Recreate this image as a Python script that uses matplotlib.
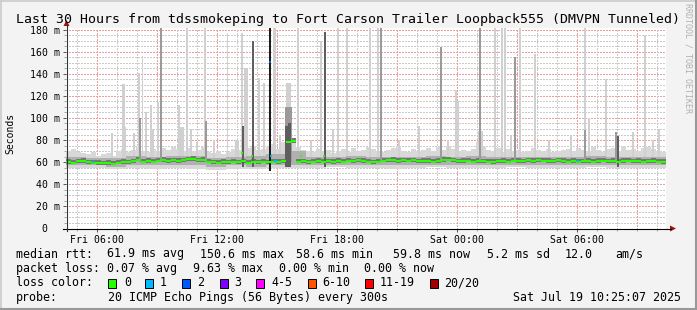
import numpy as np
import matplotlib
matplotlib.use("Agg")
import matplotlib.pyplot as plt
from matplotlib.lines import Line2D
from matplotlib.patches import Polygon, Rectangle

W, H = 697, 310
MONO = "DejaVu Sans Mono"

# ---- data ----
title = "Last 30 Hours from tdssmokeping to Fort Carson Trailer Loopback555 (DMVPN Tunneled)"
start_clock = "Fri 04:25"   # first sample, 15 minute steps

# median rtt (ms), one value per 15 min
median_ms = [
    60.2, 59.6, 60.8, 61.0,  60.0, 59.6, 59.2, 58.8,  59.4, 58.6, 59.6, 60.2,
    60.0, 60.8, 62.4, 60.6,  61.2, 60.4, 61.4, 62.0,  61.0, 61.6, 61.0, 61.8,
    62.6, 63.0, 61.6, 62.0,  60.6, 60.0, 59.6, 60.2,  59.8, 60.4, 60.0, 60.8,
    59.6, 60.4, 59.8, 60.6,  60.0, 60.4, 60.2, 60.8,  78.4, 79.2, 60.4, 60.8,
    60.0, 60.6, 61.2, 60.4,  60.8, 60.2, 61.0, 60.6,  61.4, 60.8, 61.6, 61.0,
    60.4, 60.0, 60.6, 61.4,  61.6, 62.0, 61.2, 61.8,  61.4, 61.6, 60.8, 61.2,
    61.0, 60.4, 61.2, 62.2,  62.4, 61.6, 60.8, 61.0,  61.4, 60.6, 61.2, 60.8,
    60.4, 60.2, 60.8, 61.0,  60.6, 61.4, 61.2, 60.8,  61.6, 61.0, 61.8, 61.4,
    61.2, 60.8, 61.6, 61.2,  60.6, 61.0, 60.4, 60.8,  61.2, 60.6, 61.0, 61.4,
    60.8, 61.2, 60.6, 61.0,  61.4, 60.8, 61.2, 60.4,  60.8, 61.0, 60.6, 60.2,
]

# top of the light smoke (ms), one value per 15 min
smoke_top_ms = [
    70, 72, 69, 68,  67, 69, 66, 67,  68, 66, 70, 72,  69, 71, 74, 70,
    69, 72, 70, 73,  71, 74, 72, 70,  73, 70, 71, 74,  69, 68, 70, 67,
    69, 72, 71, 74,  73, 75, 71, 72,  74, 76, 72, 78,  84, 82, 74, 71,
    70, 69, 72, 70,  71, 68, 70, 72,  69, 73, 70, 71,  74, 72, 70, 69,
    71, 73, 75, 70,  69, 72, 70, 71,  73, 70, 74, 71,  75, 72, 70, 71,
    70, 72, 78, 74,  71, 70, 73, 69,  72, 70, 71, 69,  70, 73, 71, 70,
    72, 69, 70, 71,  72, 70, 73, 71,  70, 74, 71, 69,  72, 73, 70, 75,
    71, 72, 70, 73,  74, 72, 70, 69,
]

# hourly values: bottom of light smoke, darker inner band
smoke_bottom_ms = [55, 55, 54, 55, 54, 55, 54, 53, 54, 54, 55, 55, 55, 56, 55,
                   55, 54, 55, 56, 55, 55, 55, 56, 55, 55, 55, 56, 55, 55, 55]
band_top_ms = [65, 64, 64, 66, 65, 66, 66, 64, 65, 66, 67, 70, 65, 65, 66,
               65, 65, 65, 66, 65, 66, 65, 65, 65, 65, 65, 66, 65, 65, 65]
band_bottom_ms = [57, 57, 56, 57, 57, 57, 57, 56, 57, 56, 57, 57, 57, 57, 57,
                  57, 57, 57, 57, 57, 57, 57, 57, 57, 57, 57, 57, 57, 57, 57]

# single-sample smoke spikes: (time, highest ping ms, shade, samples wide)
spikes = [
    ("Fri 06:41", 86, "l", 1), ("Fri 07:15", 131, "l", 2), ("Fri 07:18", 92, "l", 2),
    ("Fri 07:48", 86, "l", 1), ("Fri 08:03", 141, "l", 1), ("Fri 08:06", 100, "m", 1),
    ("Fri 08:13", 156, "l", 1), ("Fri 08:24", 105, "l", 1), ("Fri 08:39", 112, "l", 1),
    ("Fri 08:45", 90, "l", 1), ("Fri 09:00", 114, "l", 1), ("Fri 09:09", 200, "m", 1),
    ("Fri 10:03", 112, "l", 1), ("Fri 10:06", 92, "l", 3), ("Fri 10:15", 90, "l", 1),
    ("Fri 10:27", 200, "l", 1), ("Fri 10:39", 90, "l", 1), ("Fri 10:57", 78, "l", 1),
    ("Fri 11:21", 200, "l", 1), ("Fri 11:24", 97, "m", 1), ("Fri 11:48", 80, "l", 1),
    ("Fri 12:28", 177, "l", 1), ("Fri 12:54", 80, "l", 2), ("Fri 13:12", 177, "l", 1),
    ("Fri 13:15", 93, "d", 1), ("Fri 13:21", 145, "l", 2), ("Fri 13:45", 170, "d", 1),
    ("Fri 14:03", 136, "l", 1), ("Fri 14:18", 132, "l", 1), ("Fri 14:36", 200, "k", 1),
    ("Fri 14:48", 200, "l", 2), ("Fri 15:06", 84, "l", 1), ("Fri 15:27", 132, "l", 3),
    ("Fri 15:24", 110, "m", 4), ("Fri 15:24", 93, "d", 2), ("Fri 15:33", 95, "d", 2),
    ("Fri 16:00", 200, "l", 1), ("Fri 16:39", 80, "l", 1), ("Fri 17:09", 170, "l", 1),
    ("Fri 17:21", 178, "d", 1), ("Fri 17:45", 90, "l", 1), ("Fri 18:00", 200, "l", 1),
    ("Fri 18:27", 200, "l", 1), ("Fri 19:36", 200, "l", 1), ("Fri 20:00", 200, "l", 1),
    ("Fri 20:09", 200, "m", 1), ("Fri 21:03", 80, "l", 1), ("Fri 22:03", 93, "l", 1),
    ("Fri 23:09", 164, "m", 1), ("Fri 23:30", 80, "l", 1), ("Fri 23:54", 125, "l", 1),
    ("Sat 00:00", 115, "l", 1), ("Sat 01:03", 88, "l", 3), ("Sat 01:06", 200, "m", 1),
    ("Sat 01:51", 200, "l", 1), ("Sat 02:12", 200, "l", 1), ("Sat 02:21", 200, "l", 1),
    ("Sat 02:39", 84, "l", 1), ("Sat 02:51", 155, "m", 1), ("Sat 03:06", 200, "l", 1),
    ("Sat 03:51", 158, "l", 1), ("Sat 04:33", 80, "l", 1), ("Sat 05:39", 84, "l", 1),
    ("Sat 06:21", 200, "l", 1), ("Sat 06:21", 89, "m", 1), ("Sat 06:33", 100, "l", 1),
    ("Sat 07:24", 135, "l", 1), ("Sat 07:54", 87, "m", 1), ("Sat 08:00", 84, "d", 1),
    ("Sat 08:45", 87, "l", 1), ("Sat 09:21", 175, "l", 1), ("Sat 09:45", 80, "l", 1),
    ("Sat 10:03", 90, "l", 1),
]

# median samples drawn apart from the 15 min line: (time, ms, lost pings bin)
loss_marks = [
    ("Fri 05:45", 60.2, 1), ("Fri 13:12", 68.0, 0), ("Fri 13:42", 66.0, 0),
    ("Fri 14:36", 150.6, 2), ("Fri 14:39", 66.0, 1), ("Fri 14:51", 61.0, 1),
    ("Fri 14:54", 61.0, 1), ("Fri 16:09", 66.0, 0), ("Fri 17:18", 66.0, 0),
    ("Sat 06:00", 61.5, 1),
]

y_ticks = [0, 20, 40, 60, 80, 100, 120, 140, 160, 180]
y_tick_labels = ["0  ", "20 m", "40 m", "60 m", "80 m", "100 m", "120 m",
                 "140 m", "160 m", "180 m"]
x_tick_clocks = ["Fri 06:00", "Fri 12:00", "Fri 18:00", "Sat 00:00", "Sat 06:00"]

loss_bins = ["0", "1", "2", "3", "4-5", "6-10", "11-19", "20/20"]
loss_colors = ["#26ff00", "#00b8ff", "#0059ff", "#7e00ff", "#ff00ff",
               "#ff5500", "#ff0000", "#a10000"]

rtt_stats = ["61.9 ms avg", "150.6 ms max", "58.6 ms min", "59.8 ms now",
             "5.2 ms sd", "12.0", "am/s"]
loss_stats = ["0.07 % avg", "9.63 % max", "0.00 % min", "0.00 % now"]
probe_text = "20 ICMP Echo Pings (56 Bytes) every 300s"
stamp = "Sat Jul 19 10:25:07 2025"


def hrs(clock):
    day, hm = clock.split()
    h, m = hm.split(":")
    return (24 if day == "Sat" else 0) + int(h) + int(m) / 60 - 6


def fx(px):
    return px / W


def fy(py):
    return 1 - py / H


t0 = hrs(start_clock)
fig = plt.figure(figsize=(W / 100, H / 100), dpi=100, facecolor="#f3f3f3")
ax = fig.add_axes([fx(65.5), fy(228.5), 600 / W, 200.5 / H])
ax.set_xlim(t0, t0 + 30)
ax.set_ylim(0, 200.5 / (199 / 180))
ax.set_facecolor("white")
for s in ax.spines.values():
    s.set_visible(False)

# grid (under the smoke)
for v in np.arange(5, 181, 5):
    major = v % 20 == 0
    ax.axhline(v, color="#eb9f9f" if major else "#cbcbcb", lw=0.75,
               ls=(0, (1, 1)), antialiased=False, zorder=0.5)
for h in range(-1, 29):
    major = h % 3 == 0
    ax.axvline(h, color="#eb9f9f" if major else "#cbcbcb", lw=0.75,
               ls=(0, (1, 1)), antialiased=False, zorder=0.5)

# light smoke
qe = t0 + 0.25 * np.arange(len(smoke_top_ms) + 1)
he = t0 + np.arange(len(smoke_bottom_ms) + 1)
top_q = list(smoke_top_ms) + [smoke_top_ms[-1]]
bot_q = [smoke_bottom_ms[min(int((q - t0) // 1), 29)] for q in qe]
ax.fill_between(qe, bot_q, top_q, step="post", color="#d8d8d8", lw=0, zorder=1)

shade = {"l": ("#d0d0d0", 64, 2), "m": ("#9a9a9a", 60, 3),
         "d": ("#5e5e5e", 56, 4), "k": ("#1c1c1c", 52, 5)}
for when, top, sh, n in spikes:
    col, base, z = shade[sh]
    ax.bar(hrs(when), top - base, bottom=base, width=n / 12, align="edge",
           color=col, lw=0, zorder=z)

# darker band and core around the median
ax.fill_between(he, list(band_bottom_ms) + [band_bottom_ms[-1]],
                list(band_top_ms) + [band_top_ms[-1]], step="post",
                color="#b0b0b0", lw=0, zorder=2.5)
med = np.array(median_ms)
ax.fill_between(qe, list(med - 1.6) + [med[-1] - 1.6], list(med + 2.4) + [med[-1] + 2.4],
                step="post", color="#767676", lw=0, zorder=2.6)

# median line
ax.hlines(med, qe[:-1], qe[1:], colors=loss_colors[0], lw=1.5, zorder=8,
          capstyle="butt")
for when, v, lb in loss_marks:
    t = hrs(when)
    ax.hlines(v, t, t + 1 / 12, colors=loss_colors[lb], lw=1.5, zorder=9)

# ticks and labels
ax.set_yticks(y_ticks, y_tick_labels)
ax.set_yticks(np.arange(0, 181, 5), minor=True)
ax.set_xticks([hrs(c) for c in x_tick_clocks], x_tick_clocks)
ax.set_xticks(range(-1, 29), minor=True)
ax.tick_params(axis="both", which="major", length=2.5, width=0.7,
               color="#555555", labelsize=7.1, labelfontfamily=MONO)
ax.tick_params(axis="y", which="major", pad=1.6)
ax.tick_params(axis="x", which="major", pad=2.0)
ax.tick_params(axis="both", which="minor", length=1.5, width=0.6, color="#999999")

# axis lines with arrows
fig.add_artist(Line2D([fx(63), fx(671)], [fy(228.5), fy(228.5)], color="black", lw=0.8))
fig.add_artist(Line2D([fx(66.5), fx(66.5)], [fy(231), fy(25)], color="#333333", lw=0.8))
fig.add_artist(Polygon([[fx(670), fy(225.5)], [fx(676), fy(228.5)], [fx(670), fy(231.5)]],
                       closed=True, color="#a01010", lw=0))
fig.add_artist(Polygon([[fx(63.5), fy(26)], [fx(66.5), fy(20)], [fx(69.5), fy(26)]],
                       closed=True, color="#a01010", lw=0))

# texts
fig.text(fx(347.5), fy(19), title, family=MONO, fontsize=9.5, ha="center", va="center")
fig.text(fx(10), fy(133), "Seconds", family=MONO, fontsize=7.0, rotation=90,
         ha="center", va="center")
fig.text(fx(688), fy(3), "RRDTOOL / TOBI OETIKER", family=MONO, fontsize=6.0,
         rotation=-90, ha="center", va="top", color="#b0b0b0")

lg = dict(family=MONO, fontsize=8.4, va="center", ha="left")
fig.text(fx(16), fy(254), "median rtt:", **lg)
for x, s in zip([107, 200, 296, 393, 487, 565, 615], rtt_stats):
    fig.text(fx(x), fy(254), s, **lg)
fig.text(fx(16), fy(268.5), "packet loss:", **lg)
for x, s in zip([107, 193, 279, 364], loss_stats):
    fig.text(fx(x), fy(268.5), s, **lg)
fig.text(fx(16), fy(283), "loss color:", **lg)
for bx, lx, lab, col in zip([108, 145, 182, 220, 256, 308, 365, 430],
                            [124, 160, 197, 234, 271, 322, 380, 444],
                            loss_bins, loss_colors):
    fig.add_artist(Rectangle((fx(bx), fy(287.5)), 8 / W, 9 / H, facecolor=col,
                             edgecolor="black", lw=0.7))
    fig.text(fx(lx), fy(283), lab, **lg)
fig.text(fx(16), fy(297.5), "probe:", **lg)
fig.text(fx(108), fy(297.5), probe_text, **lg)
fig.text(fx(681), fy(297.5), stamp, family=MONO, fontsize=8.4, va="center", ha="right")

# outer bevel
fig.add_artist(Line2D([0, 1], [fy(0.5), fy(0.5)], color="#cbcbcb", lw=1.2))
fig.add_artist(Line2D([fx(0.5), fx(0.5)], [0, 1], color="#cbcbcb", lw=1.2))
fig.add_artist(Line2D([0, 1], [fy(309), fy(309)], color="#999999", lw=1.5))
fig.add_artist(Line2D([fx(696), fx(696)], [0, 1], color="#999999", lw=1.5))

fig.savefig("out.png", dpi=100, facecolor=fig.get_facecolor())
